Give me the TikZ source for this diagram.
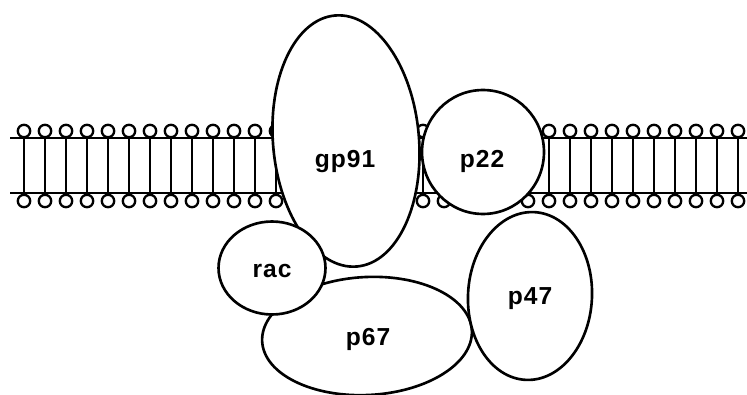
\documentclass[tikz,border=0pt]{standalone}
\usepackage{fontspec}
\newfontfamily\labelfont[LetterSpace=4]{Liberation Sans}
\usepackage{tikz}
\usetikzlibrary{shapes.geometric}

\begin{document}
\begin{tikzpicture}[
        x=0.02cm, y=-0.02cm,
        subunit/.style={
            draw=black,
            fill=white,
            ellipse,
            line width=1.5pt,
            inner sep=0pt
        },
        subunitText/.style={
            font=\labelfont\bfseries\fontsize{14}{16}\selectfont,
            inner sep=0pt
        },
        bilayerLine/.style={
            line width=1.7pt
        },
        tailLine/.style={
            line width=1pt
        },
        headCircle/.style={
            draw=black,
            fill=white,
            line width=1.3pt
        }
    ]
    \useasboundingbox (0,0) rectangle (747,395);

    % Lipid bilayer
    \draw[bilayerLine] (10,138) -- (747,138);
    \draw[bilayerLine] (10,193) -- (747,193);
    \foreach \k in {0,...,34} {
        \pgfmathsetmacro\hx{24+21*\k}
        \draw[tailLine] (\hx,138) -- (\hx,193);
        \draw[headCircle] (\hx,131) circle[radius=6.2];
        \draw[headCircle] (\hx,201) circle[radius=6.2];
    }

    % Oxidase subunits
    \node[subunit, minimum width=2.92cm, minimum height=5.04cm, rotate=5] (gp91) at (346,141) {};
    \node[subunit, minimum width=2.44cm, minimum height=2.48cm] (p22) at (483,152) {};
    \node[subunit, minimum width=4.2cm, minimum height=2.36cm, rotate=3] (p67) at (367,336) {};
    \node[subunit, minimum width=2.48cm, minimum height=3.36cm, rotate=-3] (p47) at (530,296) {};
    \node[subunit, minimum width=2.14cm, minimum height=1.86cm] (rac) at (272,268) {};

    \node[subunitText] (gp91Text) at (345,162) {gp91};
    \node[subunitText] (p22Text) at (482,161) {p22};
    \node[subunitText] (racText) at (272,271) {rac};
    \node[subunitText] (p67Text) at (368,339) {p67};
    \node[subunitText] (p47Text) at (530,299) {p47};
\end{tikzpicture}
\end{document}
